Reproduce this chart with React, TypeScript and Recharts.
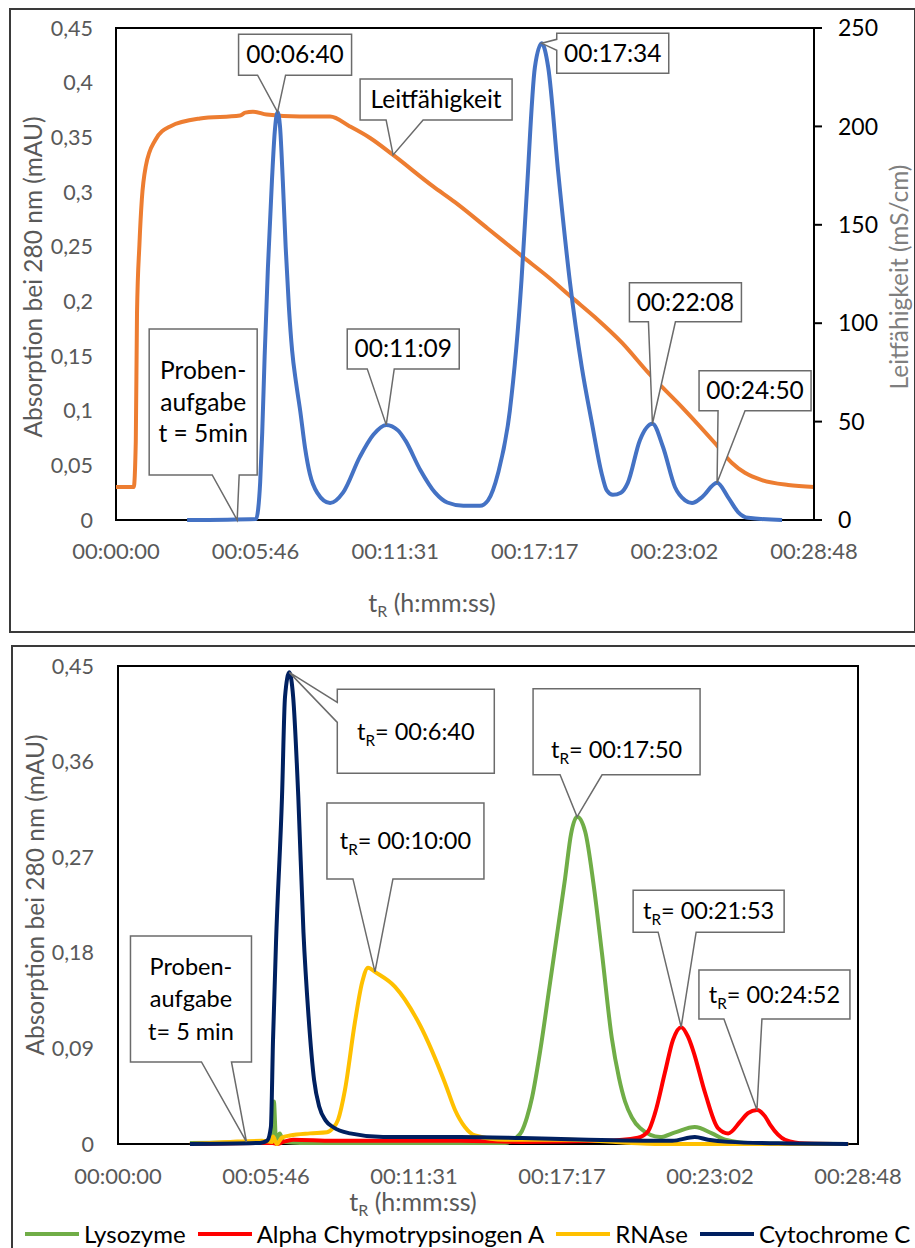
import React from "react";
import { LineChart, Line, XAxis, YAxis, ReferenceDot, ReferenceArea, Label } from "recharts";

const FONT = "Lato, 'Open Sans', sans-serif";
const GRAY = "#595959";

// shared time axis (seconds)
const xTicks = [0, 345.6, 691.2, 1036.8, 1382.4, 1728];
const xTickLabels = ["00:00:00", "00:05:46", "00:11:31", "00:17:17", "00:23:02", "00:28:48"];

// ---- top chart: absorption + conductivity
const absTicks = [0, 0.05, 0.1, 0.15, 0.2, 0.25, 0.3, 0.35, 0.4, 0.45];
const absTickLabels = ["0", "0,05", "0,1", "0,15", "0,2", "0,25", "0,3", "0,35", "0,4", "0,45"];
const condTicks = [0, 50, 100, 150, 200, 250];

const absTime = [176, 347, 352, 357, 362, 368, 376, 386, 393, 400, 406, 413, 420, 428, 436, 446, 456, 468, 480, 498, 530, 562, 604, 637, 669, 698, 716, 753, 790, 820, 860, 901, 921, 946, 975, 1004, 1017, 1037, 1054, 1070, 1095, 1124, 1153, 1178, 1202, 1215, 1230, 1250, 1267, 1297, 1328, 1354, 1384, 1409, 1426, 1451, 1488, 1515, 1540, 1565, 1649];
const absValue = [0, 0.001, 0.01, 0.035, 0.08, 0.15, 0.23, 0.31, 0.355, 0.373, 0.36, 0.31, 0.25, 0.195, 0.155, 0.125, 0.1, 0.066, 0.042, 0.025, 0.0155, 0.025, 0.058, 0.078, 0.087, 0.082, 0.073, 0.046, 0.025, 0.016, 0.013, 0.013, 0.018, 0.043, 0.1, 0.22, 0.3, 0.414, 0.436, 0.414, 0.317, 0.217, 0.14, 0.089, 0.043, 0.027, 0.023, 0.025, 0.034, 0.073, 0.088, 0.067, 0.03, 0.018, 0.0155, 0.021, 0.034, 0.021, 0.0073, 0.002, 0];

const condTime = [0, 44, 49, 52, 58, 64, 74, 97, 134, 208, 307, 320, 339, 373, 455, 530, 579, 630, 686, 785, 839, 921, 1008, 1070, 1129, 1186, 1253, 1317, 1401, 1483, 1525, 1557, 1599, 1664, 1728];
const condValue = [16.8, 16.8, 40, 105, 140, 163, 180, 193, 200, 204, 205.5, 207, 207.5, 206, 205, 205, 200, 194, 185.5, 169.5, 161.5, 148, 133.6, 123.5, 113, 103, 90, 75, 57.4, 39, 29, 24, 20.3, 17.8, 16.8];

const topNotes = [
  { t: 400, v: 0.373, axis: "abs", text: ["00:06:40"] },
  { t: 686, v: 185.5, axis: "cond", text: ["Leitfähigkeit"] },
  { t: 1054, v: 0.436, axis: "abs", text: ["00:17:34"] },
  { t: 669, v: 0.087, axis: "abs", text: ["00:11:09"] },
  { t: 300, v: 0, axis: "abs", text: ["Proben-", "aufgabe", "t = 5min"] },
  { t: 1328, v: 0.088, axis: "abs", text: ["00:22:08"] },
  { t: 1488, v: 0.034, axis: "abs", text: ["00:24:50"] },
];

// ---- bottom chart: single proteins
const protTicks = [0, 0.09, 0.18, 0.27, 0.36, 0.45];
const protTickLabels = ["0", "0,09", "0,18", "0,27", "0,36", "0,45"];

const lysoTime = [168, 336, 360, 364, 369, 378, 386, 425, 700, 904, 927, 943, 955, 967, 986, 1009, 1028, 1044, 1058, 1072, 1091, 1110, 1130, 1153, 1170, 1184, 1200, 1219, 1266, 1301, 1347, 1387, 1418, 1488, 1705];
const lysoValue = [0.001, 0.002, 0.003, 0.04, 0.004, 0.01, 0.002, 0.001, 0.001, 0.001, 0.005, 0.012, 0.025, 0.044, 0.088, 0.152, 0.205, 0.25, 0.292, 0.308, 0.294, 0.246, 0.18, 0.1, 0.062, 0.04, 0.025, 0.015, 0.0066, 0.011, 0.016, 0.01, 0.004, 0.0005, 0];

const alphaTime = [168, 336, 360, 371, 386, 409, 502, 799, 943, 1137, 1214, 1238, 1254, 1277, 1296, 1315, 1331, 1343, 1371, 1401, 1425, 1453, 1471, 1492, 1511, 1523, 1558, 1604, 1705];
const alphaValue = [0, 0.001, 0.001, 0, 0.002, 0.004, 0.003, 0.003, 0.002, 0.003, 0.006, 0.012, 0.029, 0.067, 0.098, 0.11, 0.101, 0.088, 0.048, 0.015, 0.01, 0.021, 0.029, 0.032, 0.026, 0.018, 0.004, 0.0005, 0];

const rnaseTime = [168, 262, 336, 360, 362, 371, 383, 402, 448, 488, 502, 514, 530, 553, 570, 584, 600, 647, 705, 764, 787, 810, 834, 904, 1056, 1254, 1705];
const rnaseValue = [0, 0.002, 0.003, 0.002, 0.007, 0, 0.006, 0.008, 0.01, 0.011, 0.015, 0.023, 0.051, 0.114, 0.152, 0.166, 0.162, 0.148, 0.112, 0.057, 0.032, 0.016, 0.008, 0.004, 0.004, 0, 0];

const cytoTime = [168, 332, 348, 357, 362, 369, 383, 390, 400, 409, 421, 433, 445, 458, 470, 485, 502, 542, 619, 799, 943, 1098, 1294, 1347, 1378, 1425, 1565, 1705];
const cytoValue = [0, 0.001, 0.003, 0.016, 0.098, 0.19, 0.327, 0.421, 0.444, 0.421, 0.327, 0.2, 0.12, 0.06, 0.035, 0.022, 0.016, 0.01, 0.0066, 0.0066, 0.0056, 0.004, 0.003, 0.0066, 0.004, 0.002, 0.0005, 0];

const proteins = [
  { name: "Lysozyme", color: "#70AD47", time: lysoTime, value: lysoValue },
  { name: "Alpha Chymotrypsinogen A", color: "#FF0000", time: alphaTime, value: alphaValue },
  { name: "RNAse", color: "#FFC000", time: rnaseTime, value: rnaseValue },
  { name: "Cytochrome C", color: "#002060", time: cytoTime, value: cytoValue },
];

const bottomNotes = [
  { t: 400, v: 0.444, text: ["t_R= 00:6:40"] },
  { t: 600, v: 0.162, text: ["t_R= 00:10:00"] },
  { t: 1072, v: 0.308, text: ["t_R= 00:17:50"] },
  { t: 1315, v: 0.11, text: ["t_R= 00:21:53"] },
  { t: 1492, v: 0.032, text: ["t_R= 00:24:52"] },
  { t: 300, v: 0.002, text: ["Proben-", "aufgabe", "t= 5 min"] },
];

type Box = { dx: number; dy: number; w: number; h: number; side: "bottom" | "left"; a: number; b: number; textDy?: number; lh?: number };

const topBoxes: Box[] = [
  { dx: -39, dy: -78, w: 113, h: 41, side: "bottom", a: 19, b: 47 },
  { dx: -33, dy: -76, w: 152, h: 41, side: "bottom", a: 26, b: 63 },
  { dx: 15, dy: -10, w: 112, h: 40, side: "left", a: 6, b: 17 },
  { dx: -39, dy: -96, w: 112, h: 40, side: "bottom", a: 20, b: 47 },
  { dx: -88, dy: -191, w: 108, h: 146, side: "bottom", a: 63, b: 90, lh: 31.5 },
  { dx: -23, dy: -141, w: 112, h: 39, side: "bottom", a: 19, b: 46 },
  { dx: -18, dy: -112, w: 112, h: 40, side: "bottom", a: 19, b: 46 },
];

const bottomBoxes: Box[] = [
  { dx: 48, dy: 17, w: 157, h: 84, side: "left", a: 13, b: 33 },
  { dx: -48, dy: -169, w: 157, h: 76, side: "bottom", a: 26, b: 66 },
  { dx: -44, dy: -128, w: 167, h: 86, side: "bottom", a: 27, b: 69, textDy: 18 },
  { dx: -48, dy: -137, w: 151, h: 42, side: "bottom", a: 25, b: 63 },
  { dx: -58, dy: -140, w: 151, h: 49, side: "bottom", a: 25, b: 63 },
  { dx: -116, dy: -206, w: 121, h: 126, side: "bottom", a: 71, b: 101, lh: 32.5 },
];

const toPoints = (ts: number[], vs: number[]) => ts.map((t, i) => ({ t, v: vs[i] }));

const fmtX = (v: number) => xTickLabels[xTicks.indexOf(v)] ?? "";

function withSub(line: string, fs: number) {
  const k = line.indexOf("_R");
  if (k < 0) return line;
  return (
    <>
      <tspan>{line.slice(0, k)}</tspan>
      <tspan dy={6} fontSize={fs * 0.65}>R</tspan>
      <tspan dy={-6}>{line.slice(k + 2)}</tspan>
    </>
  );
}

function Callout({ cx, cy, lines, box, fs }: { cx: number; cy: number; lines: string[]; box: Box; fs: number }) {
  const x = cx + box.dx;
  const y = cy + box.dy;
  const r = x + box.w;
  const b = y + box.h;
  const d =
    box.side === "bottom"
      ? `M${x},${y}H${r}V${b}H${x + box.b}L${cx},${cy}L${x + box.a},${b}H${x}Z`
      : `M${x},${y}H${r}V${b}H${x}V${y + box.b}L${cx},${cy}L${x},${y + box.a}Z`;
  const lh = box.lh ?? 32;
  const mid = y + box.h / 2 + (box.textDy ?? 0);
  return (
    <g>
      <path d={d} fill="#fff" stroke="#6b6b6b" strokeWidth={1.5} />
      {lines.map((ln, i) => (
        <text
          key={i}
          x={x + box.w / 2}
          y={mid + (i - (lines.length - 1) / 2) * lh + fs * 0.35}
          textAnchor="middle"
          fontSize={fs}
          fill="#000"
          fontFamily={FONT}
        >
          {withSub(ln, fs)}
        </text>
      ))}
    </g>
  );
}

function XTitle({ x, y }: { x: number; y: number }) {
  return (
    <text x={x} y={y} textAnchor="middle" fontSize={25} fill={GRAY} fontFamily={FONT}>
      t<tspan dy={5} fontSize={16}>R</tspan>
      <tspan dy={-5}> (h:mm:ss)</tspan>
    </text>
  );
}

function YTitle({ x, y, text, color }: { x: number; y: number; text: string; color: string }) {
  return (
    <text
      x={x}
      y={y}
      transform={`rotate(-90 ${x} ${y})`}
      textAnchor="middle"
      dominantBaseline="central"
      fontSize={24.5}
      fill={color}
      fontFamily={FONT}
    >
      {text}
    </text>
  );
}

function TopChart() {
  const absPoints = toPoints(absTime, absValue);
  const condPoints = toPoints(condTime, condValue);
  return (
    <LineChart width={915} height={630} margin={{ top: 28, right: 41, bottom: 70, left: 56 }}>
      <XAxis
        type="number"
        dataKey="t"
        domain={[0, 1728]}
        ticks={xTicks}
        interval={0}
        tickFormatter={fmtX}
        tick={{ fontSize: 22, fill: GRAY }}
        tickLine={false}
        axisLine={false}
        tickSize={0}
        tickMargin={23}
        height={40}
      >
        <Label content={() => <XTitle x={432} y={612} />} />
      </XAxis>
      <YAxis
        yAxisId="abs"
        width={60}
        domain={[0, 0.45]}
        ticks={absTicks}
        interval={0}
        tickFormatter={(v: number) => absTickLabels[absTicks.indexOf(v)]}
        tick={{ fontSize: 21.5, fill: GRAY }}
        tickLine={false}
        axisLine={false}
        tickSize={0}
        tickMargin={23}
      >
        <Label content={() => <YTitle x={32} y={277} text="Absorption bei 280 nm (mAU)" color={GRAY} />} />
      </YAxis>
      <YAxis
        yAxisId="cond"
        orientation="right"
        width={60}
        domain={[0, 250]}
        ticks={condTicks}
        interval={0}
        tick={{ fontSize: 23, fill: "#000" }}
        tickLine={{ stroke: "#000", strokeWidth: 2 }}
        axisLine={{ stroke: "#000", strokeWidth: 2 }}
        tickSize={8}
        tickMargin={16}
      >
        <Label content={() => <YTitle x={898} y={277} text="Leitfähigkeit (mS/cm)" color="#7f7f7f" />} />
      </YAxis>
      <ReferenceArea yAxisId="abs" x1={0} x2={1728} y1={0} y2={0.45} fill="none" stroke="#000" strokeWidth={2} />
      <Line
        yAxisId="cond"
        data={condPoints}
        dataKey="v"
        type="monotone"
        stroke="#ED7D31"
        strokeWidth={4}
        dot={false}
        activeDot={false}
        isAnimationActive={false}
      />
      <Line
        yAxisId="abs"
        data={absPoints}
        dataKey="v"
        type="monotone"
        stroke="#4472C4"
        strokeWidth={4}
        dot={false}
        activeDot={false}
        isAnimationActive={false}
      />
      {topNotes.map((n, i) => (
        <ReferenceDot
          key={i}
          yAxisId={n.axis}
          x={n.t}
          y={n.v}
          r={1}
          ifOverflow="visible"
          shape={(p: any) => <Callout cx={p.cx} cy={p.cy} lines={n.text} box={topBoxes[i]} fs={24.5} />}
        />
      ))}
    </LineChart>
  );
}

function BottomChart() {
  return (
    <LineChart width={915} height={608} margin={{ top: 26, right: 57, bottom: 64, left: 58 }}>
      <XAxis
        type="number"
        dataKey="t"
        domain={[0, 1728]}
        ticks={xTicks}
        interval={0}
        tickFormatter={fmtX}
        tick={{ fontSize: 22, fill: GRAY }}
        tickLine={false}
        axisLine={false}
        tickSize={0}
        tickMargin={24}
        height={40}
      >
        <Label content={() => <XTitle x={413} y={571} />} />
      </XAxis>
      <YAxis
        width={60}
        domain={[0, 0.45]}
        ticks={protTicks}
        interval={0}
        tickFormatter={(v: number) => protTickLabels[protTicks.indexOf(v)]}
        tick={{ fontSize: 21.5, fill: GRAY }}
        tickLine={false}
        axisLine={false}
        tickSize={0}
        tickMargin={24}
      >
        <Label content={() => <YTitle x={34} y={255} text="Absorption bei 280 nm (mAU)" color={GRAY} />} />
      </YAxis>
      <ReferenceArea x1={0} x2={1728} y1={0} y2={0.45} fill="none" stroke="#000" strokeWidth={2} />
      {proteins.map((p) => (
        <Line
          key={p.name}
          name={p.name}
          data={toPoints(p.time, p.value)}
          dataKey="v"
          type="monotone"
          stroke={p.color}
          strokeWidth={4}
          dot={false}
          activeDot={false}
          isAnimationActive={false}
        />
      ))}
      {bottomNotes.map((n, i) => (
        <ReferenceDot
          key={i}
          x={n.t}
          y={n.v}
          r={1}
          ifOverflow="visible"
          shape={(p: any) => <Callout cx={p.cx} cy={p.cy} lines={n.text} box={bottomBoxes[i]} fs={23.5} />}
        />
      ))}
    </LineChart>
  );
}

function ProteinLegend() {
  return (
    <div
      style={{
        position: "absolute",
        left: 25,
        top: 1221,
        height: 26,
        lineHeight: "26px",
        display: "flex",
        alignItems: "center",
        gap: 12,
        whiteSpace: "nowrap",
        fontSize: 24,
        fontFamily: FONT,
        color: "#000",
      }}
    >
      {proteins.map((p) => (
        <div key={p.name} style={{ display: "flex", alignItems: "center", gap: 5 }}>
          <svg width={54} height={8}>
            <line x1={0} y1={4} x2={54} y2={4} stroke={p.color} strokeWidth={4} />
          </svg>
          <span>{p.name}</span>
        </div>
      ))}
    </div>
  );
}

export default function App() {
  return (
    <div
      style={{
        position: "absolute",
        left: 0,
        top: 0,
        width: 915,
        height: 1248,
        overflow: "hidden",
        background: "#fff",
        fontFamily: FONT,
      }}
    >
      <div style={{ position: "absolute", left: 9, top: 8, width: 903, height: 621, border: "2px solid #3a3a3a" }} />
      <div style={{ position: "absolute", left: 11, top: 645, width: 940, height: 640, border: "2px solid #3a3a3a" }} />
      <div style={{ position: "absolute", left: 0, top: 0 }}>
        <TopChart />
      </div>
      <div style={{ position: "absolute", left: 0, top: 640 }}>
        <BottomChart />
      </div>
      <ProteinLegend />
    </div>
  );
}
